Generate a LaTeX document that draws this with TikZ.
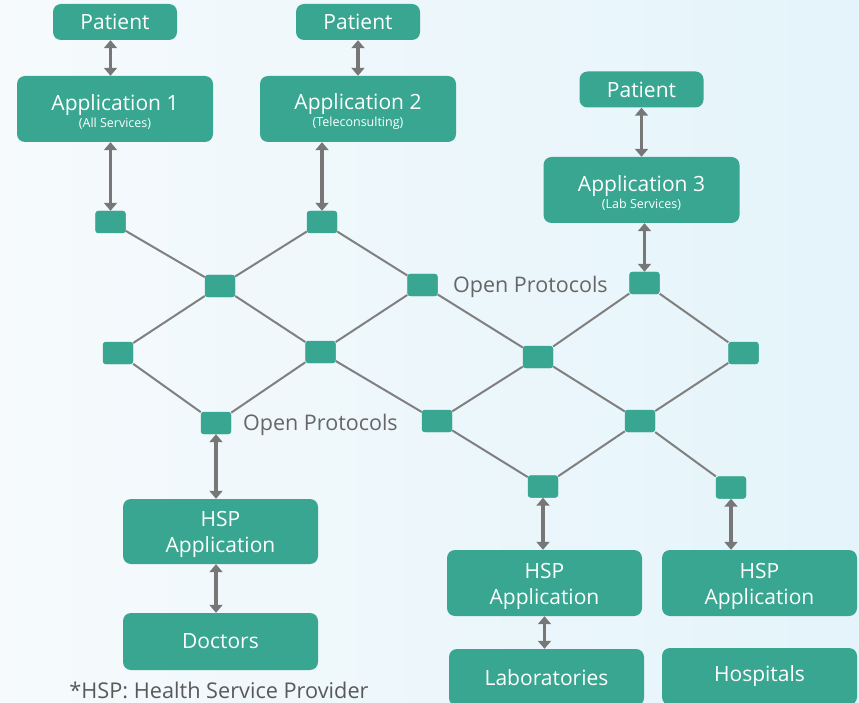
\documentclass[tikz,border=0pt]{standalone}
\usepackage{fontspec}
\setmainfont{Open Sans}
\usetikzlibrary{arrows.meta,calc}
\definecolor{tealbox}{HTML}{38A690}
\definecolor{arrowgray}{HTML}{777777}
\definecolor{linegray}{HTML}{808080}
\definecolor{bgleft}{HTML}{F6FAFC}
\definecolor{bgright}{HTML}{E4F4FA}
\definecolor{labelgray}{HTML}{666666}
\newcommand{\topstrut}{\rule{0pt}{22pt}}
\begin{document}
\begin{tikzpicture}[x=1pt,y=-1pt,
  box/.style={rectangle, rounded corners=8pt, fill=tealbox, text=white, align=center, inner sep=0pt, font=\fontsize{21}{26}\selectfont},
  smallbox/.style={box, minimum width=124pt, minimum height=36pt},
  appbox/.style={box, minimum width=196pt, minimum height=66pt},
  hub/.style={rectangle, rounded corners=3pt, fill=tealbox, minimum width=30pt, minimum height=22pt, inner sep=0pt},
  link/.style={draw=linegray, line width=2pt},
  dbl/.style={draw=arrowgray, line width=3.5pt, {Triangle[width=13pt,length=8pt]}-{Triangle[width=13pt,length=8pt]}},
  proto/.style={text=labelgray, font=\fontsize{21.5}{26}\selectfont, inner sep=0pt}
]
\useasboundingbox (0,0) rectangle (859,703);
\shade[left color=bgleft, right color=bgright] (0,0) rectangle (859,703);

% top boxes
\node[smallbox] (p1) at (115,22) {Patient};
\node[smallbox] (p2) at (358,22) {Patient};
\node[smallbox] (p3) at (641.5,89.5) {Patient};
\node[appbox] (a1) at (115,109) {\topstrut Application 1\\[-9pt]{\fontsize{12.5}{15}\selectfont(All Services)}};
\node[appbox] (a2) at (358,109) {\topstrut Application 2\\[-9pt]{\fontsize{12.5}{15}\selectfont(Teleconsulting)}};
\node[appbox] (a3) at (641.5,190) {\topstrut Application 3\\[-9pt]{\fontsize{12.5}{15}\selectfont(Lab Services)}};

% hubs
\node[hub] (s1) at (110.5,222) {};
\node[hub] (s2) at (322,222) {};
\node[hub] (s3) at (220,286) {};
\node[hub] (s4) at (422.5,285) {};
\node[hub] (s5) at (118,353) {};
\node[hub] (s6) at (320.5,352) {};
\node[hub] (s7) at (538,357) {};
\node[hub] (s8) at (216,423) {};
\node[hub] (s9) at (437,421) {};
\node[hub] (s10) at (644.5,283) {};
\node[hub] (s11) at (743.5,353) {};
\node[hub] (s12) at (640,421) {};
\node[hub] (s13) at (543,486.5) {};
\node[hub] (s14) at (731,487.5) {};

% bottom boxes
\node[box, minimum width=195pt, minimum height=65pt] (h1) at (220.5,531.5) {\topstrut HSP\\Application};
\node[box, minimum width=195pt, minimum height=57pt] (d1) at (220.5,641.5) {Doctors};
\node[box, minimum width=195pt, minimum height=66pt] (h2) at (544.5,583) {\topstrut HSP\\Application};
\node[box, minimum width=195pt, minimum height=66pt] (h3) at (759.5,583) {\topstrut HSP\\Application};
\node[box, minimum width=195pt, minimum height=57pt] (lab) at (546.5,677.5) {Laboratories};
\node[box, minimum width=195pt, minimum height=57pt] (hos) at (759.5,676.5) {Hospitals};

% network links
\foreach \a/\b in {s1/s3,s2/s3,s2/s4,s3/s5,s3/s6,s4/s6,s4/s7,s5/s8,s6/s8,s6/s9,s7/s9,s7/s10,s10/s11,s7/s12,s11/s12,s9/s13,s12/s13,s12/s14}
  \draw[link] (\a) -- (\b);
% redraw hubs on top
\foreach \n in {s1,s2,s3,s4,s5,s6,s7,s8,s9,s10,s11,s12,s13,s14}
  \fill[tealbox, rounded corners=3pt] (\n.south west) rectangle (\n.north east);

% arrows
\draw[dbl] (s1 |- p1.south) -- (s1 |- a1.north);
\draw[dbl] (s1 |- a1.south) -- (s1.north);
\draw[dbl] (p2.south) -- (a2.north);
\draw[dbl] (s2 |- a2.south) -- (s2.north);
\draw[dbl] (p3.south) -- (p3 |- a3.north);
\draw[dbl] (s10 |- a3.south) -- (s10.north);
\draw[dbl] (s8.south) -- (s8 |- h1.north);
\draw[dbl] (s8 |- h1.south) -- (s8 |- d1.north);
\draw[dbl] (s13.south) -- (s13 |- h2.north);
\draw[dbl] (h2.south) -- (h2 |- lab.north);
\draw[dbl] (s14.south) -- (s14 |- h3.north);

% labels
\node[proto, anchor=base west] (op1) at (453,293) {Open Protocols};
\node[proto, anchor=base west] (op2) at (243,430) {Open Protocols};
\node[proto, anchor=base, text=black!65, font=\fontsize{21.7}{26}\selectfont] (fn) at (219,698) {*HSP: Health Service Provider};
\end{tikzpicture}
\end{document}
